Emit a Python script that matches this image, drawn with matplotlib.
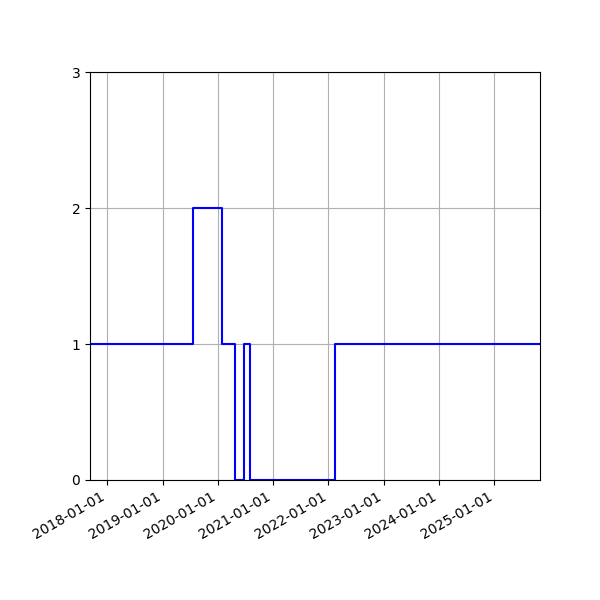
import matplotlib
matplotlib.use("Agg")
import matplotlib.pyplot as plt
import matplotlib.dates as mdates
import numpy as np

dates = ["2017-09-09", "2019-07-24", "2020-01-27", "2020-04-26", "2020-06-25",
         "2020-07-30", "2022-02-11", "2025-10-29"]
values = [1, 2, 1, 0, 1, 0, 1, 1]
yticks = [0, 1, 2, 3]

x = np.array(dates, dtype="datetime64[D]")

fig, ax = plt.subplots(figsize=(6, 6), dpi=100)
ax.plot(x, values, drawstyle="steps-post", color="blue")
ax.set_xlim(x[0], x[-1])
ax.set_ylim(0, 3)
ax.set_yticks(yticks)
ax.xaxis.set_major_locator(mdates.YearLocator())
ax.xaxis.set_major_formatter(mdates.DateFormatter("%Y-%m-%d"))
ax.grid(True)
fig.autofmt_xdate()
fig.subplots_adjust(left=0.15, right=0.9, top=0.88, bottom=0.2)
fig.savefig("out.png")
